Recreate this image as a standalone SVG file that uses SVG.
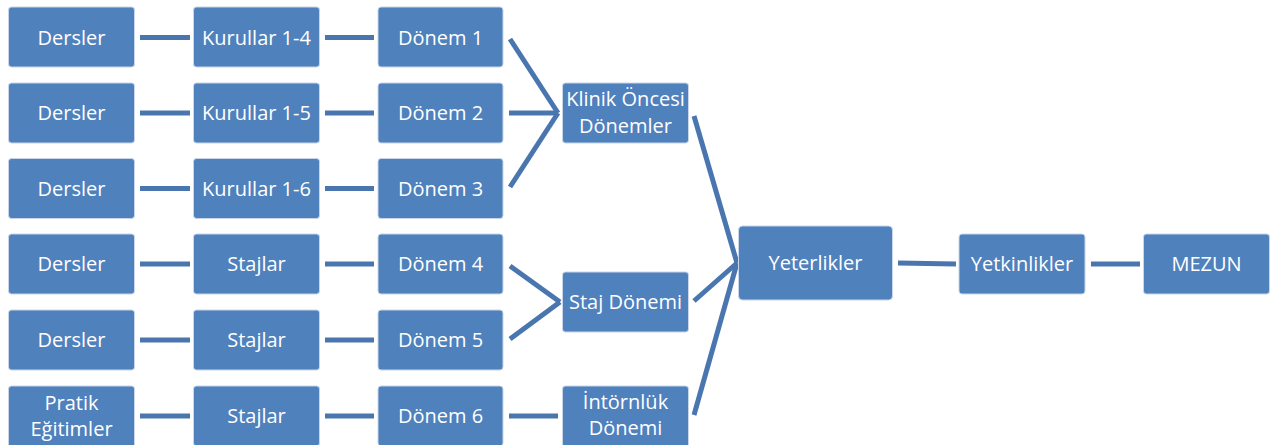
<svg xmlns="http://www.w3.org/2000/svg" width="1275" height="445" viewBox="0 0 1275 445">
<style>
.box{fill:#4F81BD;stroke:#c9d6ea;stroke-width:1}
.t{fill:#fff;font-family:"Open Sans","Liberation Sans",sans-serif;font-size:20px;text-anchor:middle}
.c line{stroke:#4A76B0;stroke-width:5;stroke-linecap:butt}
</style>
<rect width="1275" height="445" fill="#fff"/>
<g class="c" id="connectors">
<line x1="140" y1="37.5" x2="190" y2="37.5"/>
<line x1="325" y1="37.5" x2="374" y2="37.5"/>
<line x1="140" y1="113" x2="190" y2="113"/>
<line x1="325" y1="113" x2="374" y2="113"/>
<line x1="140" y1="188.5" x2="190" y2="188.5"/>
<line x1="325" y1="188.5" x2="374" y2="188.5"/>
<line x1="140" y1="264" x2="190" y2="264"/>
<line x1="325" y1="264" x2="374" y2="264"/>
<line x1="140" y1="340" x2="190" y2="340"/>
<line x1="325" y1="340" x2="374" y2="340"/>
<line x1="140" y1="416" x2="190" y2="416"/>
<line x1="325" y1="416" x2="374" y2="416"/>
<line x1="510" y1="39" x2="558" y2="113"/>
<line x1="509" y1="113" x2="558" y2="113"/>
<line x1="510" y1="187" x2="558" y2="113"/>
<line x1="510" y1="266" x2="560" y2="302"/>
<line x1="510" y1="339" x2="560" y2="302"/>
<line x1="509" y1="416" x2="558" y2="416"/>
<line x1="694" y1="116" x2="737" y2="263"/>
<line x1="694" y1="301" x2="737" y2="263"/>
<line x1="694" y1="415" x2="737" y2="263"/>
<line x1="898" y1="263" x2="956" y2="264"/>
<line x1="1091" y1="264" x2="1140" y2="264"/>
</g>
<g id="n1"><rect class="box" x="8.5" y="7" width="126" height="60" rx="3"/><text class="t" x="71.5" y="44.5">Dersler</text></g>
<g id="n2"><rect class="box" x="193.5" y="7" width="126" height="60" rx="3"/><text class="t" x="256.5" y="44.5">Kurullar 1-4</text></g>
<g id="n3"><rect class="box" x="378" y="7" width="125" height="60" rx="3"/><text class="t" x="440.5" y="44.5">Dönem 1</text></g>
<g id="n4"><rect class="box" x="8.5" y="83" width="126" height="60" rx="3"/><text class="t" x="71.5" y="120">Dersler</text></g>
<g id="n5"><rect class="box" x="193.5" y="83" width="126" height="60" rx="3"/><text class="t" x="256.5" y="120">Kurullar 1-5</text></g>
<g id="n6"><rect class="box" x="378" y="83" width="125" height="60" rx="3"/><text class="t" x="440.5" y="120">Dönem 2</text></g>
<g id="n7"><rect class="box" x="8.5" y="158.5" width="126" height="60" rx="3"/><text class="t" x="71.5" y="195.5">Dersler</text></g>
<g id="n8"><rect class="box" x="193.5" y="158.5" width="126" height="60" rx="3"/><text class="t" x="256.5" y="195.5">Kurullar 1-6</text></g>
<g id="n9"><rect class="box" x="378" y="158.5" width="125" height="60" rx="3"/><text class="t" x="440.5" y="195.5">Dönem 3</text></g>
<g id="n10"><rect class="box" x="8.5" y="234" width="126" height="60" rx="3"/><text class="t" x="71.5" y="271">Dersler</text></g>
<g id="n11"><rect class="box" x="193.5" y="234" width="126" height="60" rx="3"/><text class="t" x="256.5" y="271">Stajlar</text></g>
<g id="n12"><rect class="box" x="378" y="234" width="125" height="60" rx="3"/><text class="t" x="440.5" y="271">Dönem 4</text></g>
<g id="n13"><rect class="box" x="8.5" y="310" width="126" height="60" rx="3"/><text class="t" x="71.5" y="347">Dersler</text></g>
<g id="n14"><rect class="box" x="193.5" y="310" width="126" height="60" rx="3"/><text class="t" x="256.5" y="347">Stajlar</text></g>
<g id="n15"><rect class="box" x="378" y="310" width="125" height="60" rx="3"/><text class="t" x="440.5" y="347">Dönem 5</text></g>
<g id="n16"><rect class="box" x="8.5" y="386" width="126" height="62" rx="3"/><text class="t" x="71.5" y="410">Pratik</text><text class="t" x="71.5" y="436">Eğitimler</text></g>
<g id="n17"><rect class="box" x="193.5" y="386" width="126" height="60" rx="3"/><text class="t" x="256.5" y="423">Stajlar</text></g>
<g id="n18"><rect class="box" x="378" y="386" width="125" height="60" rx="3"/><text class="t" x="440.5" y="423">Dönem 6</text></g>
<g id="n19"><rect class="box" x="562.5" y="83" width="126" height="60" rx="3"/><text class="t" x="625.5" y="106">Klinik Öncesi</text><text class="t" x="625.5" y="133">Dönemler</text></g>
<g id="n20"><rect class="box" x="562.5" y="272" width="126" height="60" rx="3"/><text class="t" x="625.5" y="309">Staj Dönemi</text></g>
<g id="n21"><rect class="box" x="562.5" y="386" width="126" height="62" rx="3"/><text class="t" x="625.5" y="409">İntörnlük</text><text class="t" x="625.5" y="435">Dönemi</text></g>
<g id="n22"><rect class="box" x="738.5" y="226" width="154" height="74" rx="4"/><text class="t" x="815.5" y="270">Yeterlikler</text></g>
<g id="n23"><rect class="box" x="959" y="234" width="126" height="60" rx="3"/><text class="t" x="1022" y="271">Yetkinlikler</text></g>
<g id="n24"><rect class="box" x="1143.5" y="234" width="126" height="60" rx="3"/><text class="t" x="1206.5" y="271">MEZUN</text></g>
</svg>
